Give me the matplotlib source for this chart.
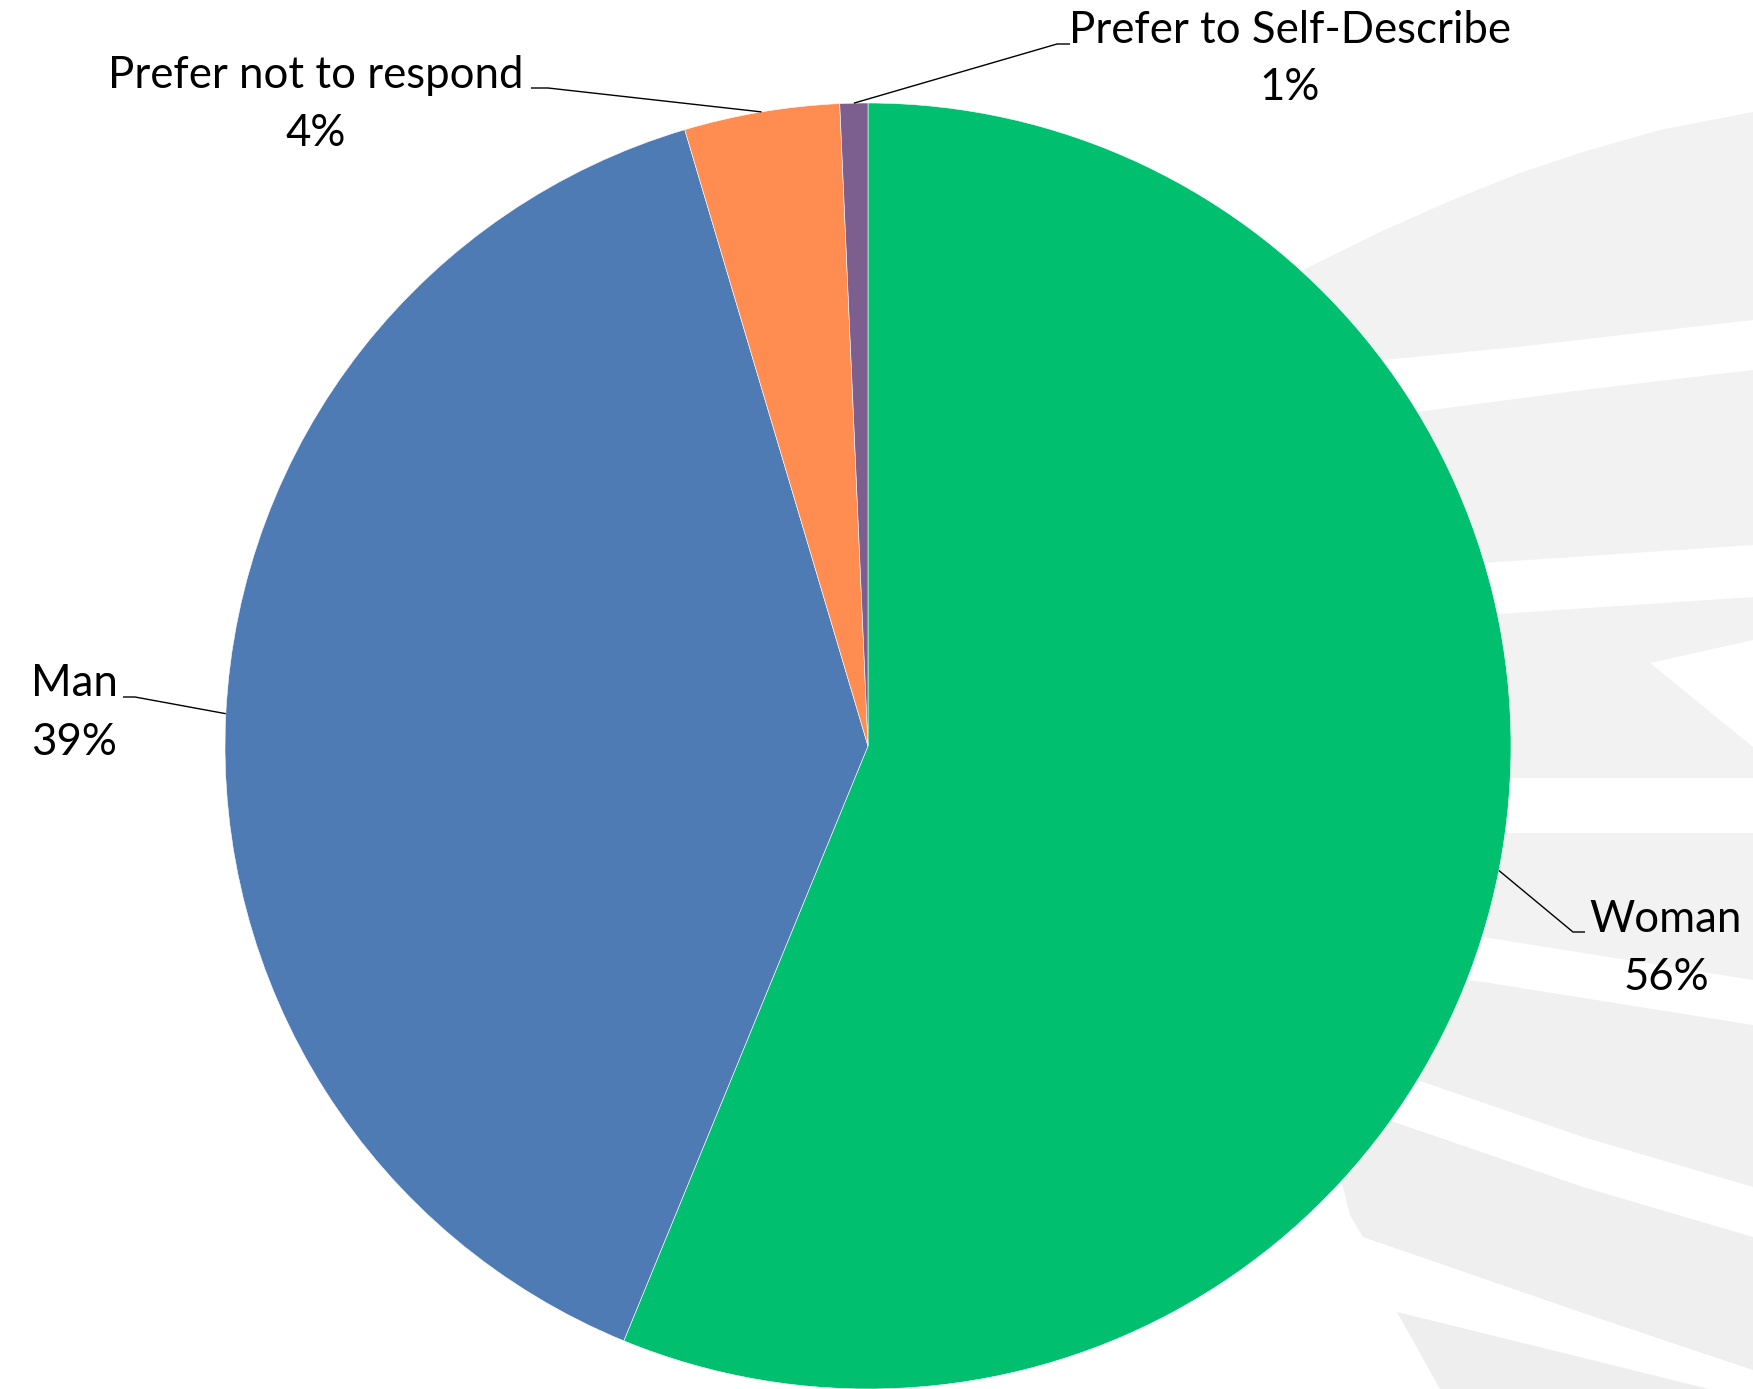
import numpy as np
import matplotlib
matplotlib.use("Agg")
import matplotlib.pyplot as plt
from matplotlib.patches import Polygon

# Survey responses: gender identity (percent of respondents)
categories = ["Woman", "Man", "Prefer not to respond", "Prefer to Self-Describe"]
shares = [56.2, 39.2, 3.9, 0.7]
colors = ["#00BF6F", "#4F7BB4", "#FF8C50", "#7C5F8F"]

W, H = 1753, 1389
fig = plt.figure(figsize=(W / 100, H / 100), dpi=100)
ax = fig.add_axes([0, 0, 1, 1])


def yup(y):
    return H - y


# Decorative light-grey swoosh bands in the right-hand background
bands = [
    ("#f2f2f2", [(1250, 296), (1303, 270), (1380, 232), (1450, 201), (1520, 173),
                 (1583, 152), (1660, 130), (1753, 112),
                 (1753, 320), (1517, 347), (1383, 360), (1250, 372)]),
    ("#f2f2f2", [(1300, 420), (1417, 412), (1583, 390), (1753, 370),
                 (1753, 545), (1483, 563), (1300, 572)]),
    ("#f2f2f2", [(1300, 622), (1483, 615), (1753, 597), (1753, 640), (1650, 663),
                 (1753, 747), (1753, 778), (1300, 778)]),
    ("#f2f2f2", [(1300, 833), (1753, 833), (1753, 980), (1483, 937), (1300, 925)]),
    ("#f0f0f0", [(1300, 960), (1483, 982), (1753, 1025), (1753, 1187),
                 (1583, 1137), (1423, 1082), (1300, 1040)]),
    ("#efefef", [(1330, 1100), (1397, 1123), (1583, 1187), (1753, 1237), (1753, 1370),
                 (1583, 1313), (1363, 1237), (1350, 1215), (1343, 1187), (1330, 1160)]),
    ("#eeeeee", [(1397, 1312), (1600, 1362), (1753, 1400), (1753, 1389), (1440, 1389)]),
]
for col, pts in bands:
    ax.add_patch(Polygon([(x, yup(y)) for x, y in pts], closed=True,
                         facecolor=col, edgecolor="none", zorder=0.5))

cx, cy, r = 868, yup(746), 643
wedges, _ = ax.pie(shares, colors=colors, startangle=90, counterclock=False,
                   center=(cx, cy), radius=r,
                   wedgeprops=dict(linewidth=0.4, edgecolor="white", zorder=2))

# Label placement: text centre x, name baseline, percent baseline, elbow, line end
label_pos = [
    (1666, 932, 990, (1573, 932), (1585, 932)),
    (74, 696, 755, (135, 697), (123, 697)),
    (316, 88, 146, (548, 88), (531, 88)),
    (1290, 43, 100, (1057, 44), (1070, 44)),
]

font = dict(family=["Lato", "DejaVu Sans"], fontsize=31.5, color="black")
total = sum(shares)
for w, name, val, (tx, yb1, yb2, elbow, end) in zip(wedges, categories, shares, label_pos):
    mid = np.deg2rad((w.theta1 + w.theta2) / 2)
    ax_ = cx + r * np.cos(mid)
    ay_ = cy + r * np.sin(mid)
    ax.plot([ax_, elbow[0], end[0]], [ay_, yup(elbow[1]), yup(end[1])],
            color="black", lw=1.0, zorder=3, solid_capstyle="butt")
    ax.text(tx, yup(yb1), name, ha="center", va="baseline", zorder=4, **font)
    ax.text(tx, yup(yb2), f"{round(val / total * 100)}%", ha="center",
            va="baseline", zorder=4, **font)

ax.set_xlim(0, W)
ax.set_ylim(0, H)
ax.set_aspect("equal")
ax.axis("off")

fig.savefig("out.png", dpi=100, facecolor="white")
